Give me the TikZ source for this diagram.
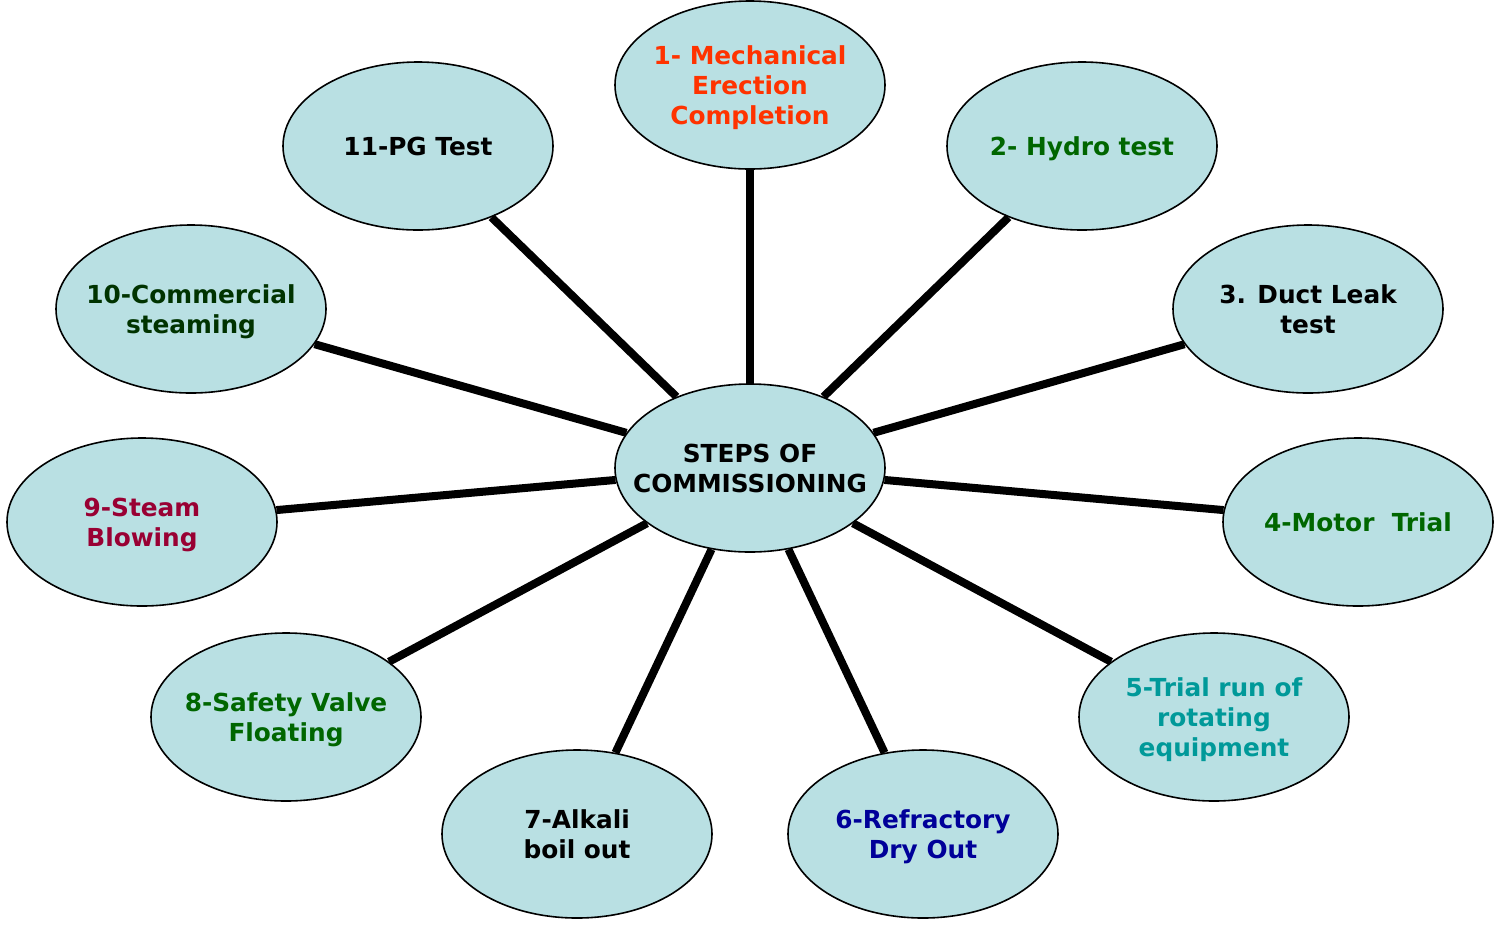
\documentclass[tikz,border=0pt]{standalone}
\usepackage{fontspec}
\setmainfont{DejaVu Sans}
\usepackage{tikz}
\usetikzlibrary{shapes.geometric}
\definecolor{stepfill}{HTML}{B9E0E3}
\definecolor{orangered}{HTML}{FF3300}
\definecolor{darkgreen}{HTML}{006600}
\definecolor{deepgreen}{HTML}{003300}
\definecolor{tealtext}{HTML}{009999}
\definecolor{navytext}{HTML}{000099}
\definecolor{maroontext}{HTML}{990033}
\newcommand{\steptext}[1]{\makebox[0pt]{\raisebox{-1.5pt}[\height][\depth]{\begin{tabular}{@{}c@{}}#1\end{tabular}}}}

\begin{document}
\begin{tikzpicture}[x=0.5pt,y=-0.5pt,
    stepnode/.style={ellipse,draw=black,line width=0.8pt,fill=stepfill,
        minimum width=135pt,minimum height=84pt,inner sep=0pt,
        font=\fontsize{12.4}{15}\selectfont\bfseries},
    spoke/.style={line width=4pt,black}]
    \useasboundingbox (0,0) rectangle (1500,934);

    \node[stepnode] (hub) at (750,468) {\steptext{STEPS OF\\COMMISSIONING}};

    \node[stepnode,text=orangered] (s1) at (750,85) {\steptext{1- Mechanical\\Erection\\Completion}};
    \node[stepnode,text=darkgreen] (s2) at (1082,146) {\steptext{2- Hydro test}};
    \node[stepnode] (s3) at (1308,309) {\steptext{3. Duct Leak\\test}};
    \node[stepnode,text=darkgreen] (s4) at (1358,522) {\steptext{4-Motor~~Trial}};
    \node[stepnode,text=tealtext] (s5) at (1214,717) {\steptext{5-Trial run of\\rotating\\equipment}};
    \node[stepnode,text=navytext] (s6) at (923,834) {\steptext{6-Refractory\\Dry Out}};
    \node[stepnode] (s7) at (577,834) {\steptext{7-Alkali\\boil out}};
    \node[stepnode,text=darkgreen] (s8) at (286,717) {\steptext{8-Safety Valve\\Floating}};
    \node[stepnode,text=maroontext] (s9) at (142,522) {\steptext{9-Steam\\Blowing}};
    \node[stepnode,text=deepgreen] (s10) at (191,309) {\steptext{10-Commercial\\steaming}};
    \node[stepnode] (s11) at (418,146) {\steptext{11-PG Test}};

    \draw[spoke] (hub) -- (s1);
    \draw[spoke] (hub) -- (s2);
    \draw[spoke] (hub) -- (s3);
    \draw[spoke] (hub) -- (s4);
    \draw[spoke] (hub) -- (s5);
    \draw[spoke] (hub) -- (s6);
    \draw[spoke] (hub) -- (s7);
    \draw[spoke] (hub) -- (s8);
    \draw[spoke] (hub) -- (s9);
    \draw[spoke] (hub) -- (s10);
    \draw[spoke] (hub) -- (s11);
\end{tikzpicture}
\end{document}
